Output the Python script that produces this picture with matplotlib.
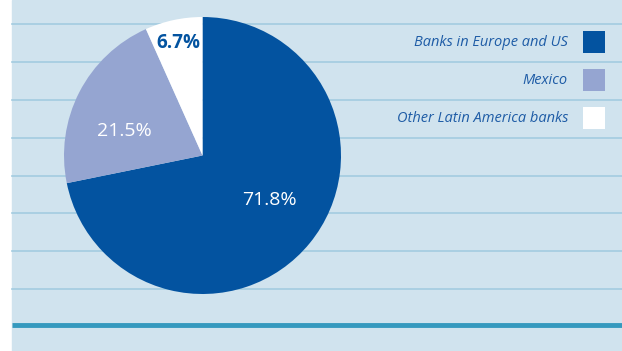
import matplotlib
matplotlib.use("Agg")
import matplotlib.pyplot as plt
from matplotlib.patches import Rectangle

categories = ["Banks in Europe and US", "Mexico", "Other Latin America banks"]
values = [71.8, 21.5, 6.7]
labels = ["71.8%", "21.5%", "6.7%"]
colors = ["#0353A0", "#95A5D1", "#FFFFFF"]
label_colors = ["white", "white", "#0353A0"]

W, H = 622, 351
fig = plt.figure(figsize=(W / 100, H / 100), dpi=100)
ax = fig.add_axes([0, 0, 1, 1])
ax.set_xlim(0, W)
ax.set_ylim(0, H)
ax.set_aspect("equal")
ax.axis("off")

def Y(y):
    return H - y

# background
ax.add_patch(Rectangle((12, 0), W - 12, H, color="#D0E3EE", zorder=0))
for y in [24, 62, 100, 138, 176, 213, 251, 289]:
    ax.plot([12, W], [Y(y), Y(y)], color="#A3CCE0", lw=1.2, zorder=1)
ax.plot([12, W], [Y(325), Y(325)], color="#3599BE", lw=3.5, zorder=1, solid_capstyle="butt")

cx, cy, r = 202.5, Y(155.5), 138.5
wedges, _ = ax.pie(values, colors=colors, startangle=90, counterclock=False,
                   center=(cx, cy), radius=r, frame=True,
                   wedgeprops=dict(linewidth=0, zorder=2))
ax.set_xlim(0, W)
ax.set_ylim(0, H)
ax.axis("off")

label_pos = [(269, 200), (124, 131), (178, 43)]
label_sizes = [14, 14, 13.5]
for (lx, ly), t, c, w, s in zip(label_pos, labels, label_colors, ["normal", "normal", "bold"], label_sizes):
    ax.text(lx, Y(ly), t, color=c, fontsize=s, ha="center", va="center",
            family="Open Sans", fontweight=w, zorder=3)

leg_y = [42, 80, 118]
for yy, cat, col in zip(leg_y, categories, colors):
    ax.text(568, Y(yy), cat, color="#1E5CA6", fontsize=10.5, style="italic",
            ha="right", va="center", family="Open Sans", zorder=3)
    ax.add_patch(Rectangle((583, Y(yy) - 11), 22, 22, color=col, lw=0, zorder=3))

fig.savefig("out.png", dpi=100)
